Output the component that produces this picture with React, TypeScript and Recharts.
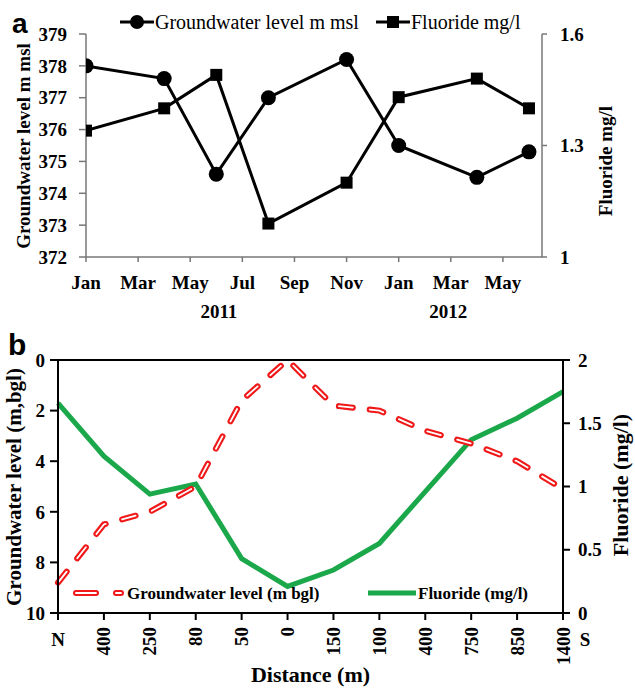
import React from "react";
import { LineChart, Line, XAxis, YAxis, Label, ReferenceLine } from "recharts";

// ---- panel a: monthly series, Jan 2011 - Jun 2012 ----
const MONTHS = ["Jan", "Mar", "May", "Jul", "Sep", "Nov", "Jan", "Mar", "May"];
const MONTH_TICKS = [0, 2, 4, 6, 8, 10, 12, 14, 16];
const SAMPLE_MONTH = [0, 3, 5, 7, 10, 12, 15, 17];
const GW_MSL = [378.0, 377.6, 374.6, 377.0, 378.2, 375.5, 374.5, 375.3];
const FLUORIDE_A = [1.34, 1.4, 1.49, 1.09, 1.2, 1.43, 1.48, 1.4];
const YEARS = ["2011", "2012"];
const YEAR_AT = [5.1, 13.9];
const GW_TICKS = [372, 373, 374, 375, 376, 377, 378, 379];
const FA_TICKS = [1, 1.3, 1.6];

// ---- panel b: N-S profile ----
const DISTANCE = ["N", "400", "250", "80", "50", "0", "150", "100", "400", "750", "850", "1400"];
const GW_BGL = [8.8, 6.5, 6.0, 5.0, 1.6, 0, 1.8, 2.0, 2.8, 3.3, 4.0, 5.1];
const FLUORIDE_B = [1.66, 1.24, 0.94, 1.02, 0.43, 0.21, 0.34, 0.55, 0.96, 1.37, 1.54, 1.75];
const BGL_TICKS = [0, 2, 4, 6, 8, 10];
const FB_TICKS = [0, 0.5, 1, 1.5, 2];

const SERIF = '"Liberation Serif", "Times New Roman", serif';
const SANS = '"Liberation Sans", Arial, sans-serif';
const RED = "#f01818";
const GREEN = "#1aa84a";

const tickFont = { fill: "#000", fontSize: 19, fontWeight: "bold", fontFamily: SERIF };

const dataA = SAMPLE_MONTH.map((m, i) => ({ m, gw: GW_MSL[i], f: FLUORIDE_A[i] }));
const dataB = DISTANCE.map((_, i) => ({ i, gw: GW_BGL[i], f: FLUORIDE_B[i] }));

// rotated axis title at a fixed spot
const vTitle = (text: string, cx: number, cy: number, size: number) => () => (
  <text
    x={cx}
    y={cy}
    transform={`rotate(-90 ${cx} ${cy})`}
    textAnchor="middle"
    dominantBaseline="central"
    fontFamily={SERIF}
    fontWeight="bold"
    fontSize={size}
    fill="#000"
  >
    {text}
  </text>
);

function MonthTick({ x, y, payload }: any) {
  const idx = MONTH_TICKS.indexOf(payload.value);
  return (
    <text x={x} y={y + 25} textAnchor="middle" {...tickFont}>
      {MONTHS[idx]}
    </text>
  );
}

const YearLabels = ({ viewBox }: any) => {
  const { x, y, width } = viewBox;
  return (
    <g>
      {YEARS.map((t, k) => (
        <text key={t} x={x + (YEAR_AT[k] / 17.5) * width} y={y + 61} textAnchor="middle" {...tickFont}>
          {t}
        </text>
      ))}
    </g>
  );
};

function DistTick({ x, y, payload }: any) {
  const i = payload.value;
  const label = DISTANCE[i];
  if (i === 0) {
    return (
      <text x={x} y={y + 24} textAnchor="middle" {...tickFont}>
        {label}
      </text>
    );
  }
  return (
    <g>
      <text
        x={x}
        y={y + 5}
        transform={`rotate(-90 ${x} ${y + 5})`}
        textAnchor="end"
        dominantBaseline="central"
        {...tickFont}
      >
        {label}
      </text>
      {i === DISTANCE.length - 1 && (
        <text x={x + 22} y={y + 24} textAnchor="middle" {...tickFont}>
          S
        </text>
      )}
    </g>
  );
}

const squareDot = (props: any) => (
  <rect key={`sq-${props.index}`} x={props.cx - 6} y={props.cy - 6} width={12} height={12} fill="#000" />
);

const DistanceTitle = ({ viewBox }: any) => (
  <text
    x={viewBox.x + viewBox.width / 2}
    y={viewBox.y + 69}
    textAnchor="middle"
    fontFamily={SERIF}
    fontWeight="bold"
    fontSize={22}
    fill="#000"
  >
    Distance (m)
  </text>
);

const legendText: React.CSSProperties = {
  position: "absolute",
  fontFamily: SERIF,
  color: "#000",
  whiteSpace: "nowrap",
  lineHeight: 1,
};

export default function App() {
  const axisA = { stroke: "#777", strokeWidth: 1.5 };
  const axisB = { stroke: "#000", strokeWidth: 2 };
  return (
    <div style={{ position: "absolute", left: 0, top: 0, width: 635, height: 688, background: "#fff" }}>
      {/* panel a */}
      <div style={{ position: "absolute", left: 0, top: 0 }}>
        <LineChart width={635} height={340} data={dataA} margin={{ top: 34, right: 43, left: 36, bottom: 43 }}>
          <XAxis
            dataKey="m"
            type="number"
            domain={[0, 17.5]}
            ticks={MONTH_TICKS}
            allowDataOverflow
            height={40}
            tickSize={5}
            axisLine={axisA}
            tickLine={axisA}
            tick={<MonthTick />}
          >
            <Label content={YearLabels} />
          </XAxis>
          <YAxis
            yAxisId="gw"
            domain={[372, 379]}
            ticks={GW_TICKS}
            width={50}
            tickSize={7}
            tickMargin={12}
            axisLine={axisA}
            tickLine={axisA}
            tick={tickFont}
          >
            <Label content={vTitle("Groundwater level m msl", 23, 146, 19)} />
          </YAxis>
          <YAxis
            yAxisId="f"
            orientation="right"
            domain={[1, 1.6]}
            ticks={FA_TICKS}
            width={50}
            tickSize={5}
            tickMargin={13}
            axisLine={axisA}
            tickLine={axisA}
            tick={{ ...tickFont, textAnchor: "start" }}
          >
            <Label content={vTitle("Fluoride mg/l", 605, 161, 19)} />
          </YAxis>
          <Line
            yAxisId="gw"
            dataKey="gw"
            stroke="#000"
            strokeWidth={3}
            dot={{ r: 7.5, fill: "#000", stroke: "#000", strokeWidth: 0 }}
            isAnimationActive={false}
          />
          <Line
            yAxisId="f"
            dataKey="f"
            stroke="#000"
            strokeWidth={3}
            dot={squareDot}
            isAnimationActive={false}
          />
        </LineChart>
      </div>

      {/* panel a legend */}
      <svg style={{ position: "absolute", left: 118, top: 12 }} width={38} height={20}>
        <line x1={2} y1={10} x2={36} y2={10} stroke="#000" strokeWidth={3} />
        <circle cx={19} cy={10} r={7} fill="#000" />
      </svg>
      <span style={{ ...legendText, left: 155, top: 12, fontSize: 20 }}>Groundwater level m msl</span>
      <svg style={{ position: "absolute", left: 374, top: 12 }} width={38} height={20}>
        <line x1={2} y1={10} x2={36} y2={10} stroke="#000" strokeWidth={3} />
        <rect x={13} y={4} width={12} height={12} fill="#000" />
      </svg>
      <span style={{ ...legendText, left: 411, top: 12, fontSize: 20 }}>Fluoride mg/l</span>
      <span style={{ ...legendText, left: 12, top: 10, fontSize: 28, fontWeight: "bold", fontFamily: SANS }}>a</span>

      {/* panel b */}
      <div style={{ position: "absolute", left: 0, top: 330 }}>
        <LineChart width={635} height={358} data={dataB} margin={{ top: 30, right: 27, left: 8, bottom: 30 }}>
          <XAxis
            dataKey="i"
            type="number"
            domain={[0, DISTANCE.length - 1]}
            ticks={DISTANCE.map((_, i) => i)}
            height={45}
            tickSize={7}
            axisLine={axisB}
            tickLine={axisB}
            tick={<DistTick />}
          >
            <Label content={DistanceTitle} />
          </XAxis>
          <YAxis
            yAxisId="gw"
            reversed
            domain={[0, 10]}
            ticks={BGL_TICKS}
            width={50}
            tickSize={8}
            tickMargin={5}
            axisLine={axisB}
            tickLine={axisB}
            tick={tickFont}
          >
            <Label content={vTitle("Groundwater level (m,bgl)", 14, 157, 21)} />
          </YAxis>
          <YAxis
            yAxisId="f"
            orientation="right"
            domain={[0, 2]}
            ticks={FB_TICKS}
            width={45}
            tickSize={7}
            tickMargin={8}
            axisLine={axisB}
            tickLine={axisB}
            tick={{ ...tickFont, textAnchor: "start" }}
          >
            <Label content={vTitle("Fluoride (mg/l)", 620, 155, 22)} />
          </YAxis>
          <ReferenceLine yAxisId="gw" y={0} stroke="#000" strokeWidth={2} />
          <Line
            yAxisId="f"
            dataKey="f"
            stroke={GREEN}
            strokeWidth={5}
            dot={false}
            isAnimationActive={false}
          />
          <Line
            yAxisId="gw"
            dataKey="gw"
            stroke={RED}
            strokeWidth={6}
            strokeDasharray="14 17"
            strokeLinecap="round"
            dot={false}
            isAnimationActive={false}
          />
          <Line
            yAxisId="gw"
            dataKey="gw"
            stroke="#fff"
            strokeWidth={1.8}
            strokeDasharray="14 17"
            strokeLinecap="round"
            dot={false}
            isAnimationActive={false}
          />
        </LineChart>
      </div>

      {/* panel b legend */}
      <svg style={{ position: "absolute", left: 72, top: 585 }} width={54} height={16}>
        <line x1={4} y1={8} x2={24} y2={8} stroke={RED} strokeWidth={6} strokeLinecap="round" />
        <line x1={4} y1={8} x2={24} y2={8} stroke="#fff" strokeWidth={1.8} strokeLinecap="round" />
        <line x1={44} y1={8} x2={49} y2={8} stroke={RED} strokeWidth={6} strokeLinecap="round" />
        <line x1={44} y1={8} x2={49} y2={8} stroke="#fff" strokeWidth={1.8} strokeLinecap="round" />
      </svg>
      <span style={{ ...legendText, left: 127, top: 585, fontSize: 17, fontWeight: "bold" }}>
        Groundwater level (m bgl)
      </span>
      <svg style={{ position: "absolute", left: 366, top: 585 }} width={52} height={16}>
        <line x1={2} y1={8} x2={50} y2={8} stroke={GREEN} strokeWidth={5} />
      </svg>
      <span style={{ ...legendText, left: 418, top: 585, fontSize: 17, fontWeight: "bold" }}>Fluoride (mg/l)</span>
      <span style={{ ...legendText, left: 8, top: 330, fontSize: 30, fontWeight: "bold", fontFamily: SANS }}>b</span>
    </div>
  );
}
